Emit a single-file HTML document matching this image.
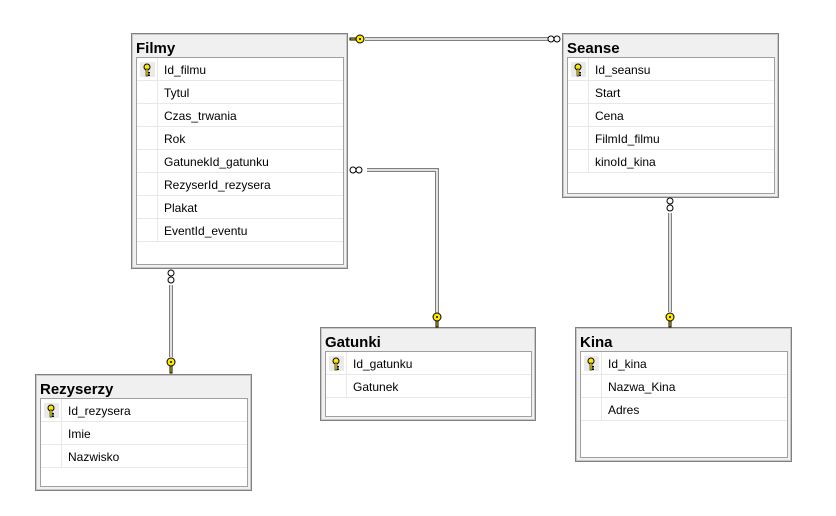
<!DOCTYPE html>
<html><head><meta charset="utf-8"><style>
body{margin:0;width:836px;height:516px;background:#fff;position:relative;overflow:hidden;font-family:"Liberation Sans",sans-serif}
.b{position:absolute;background:#f0f0f0;border:1px solid #808080;box-shadow:inset 0 0 0 1px #c8c8c8;box-sizing:border-box}
.t{position:absolute;left:4px;top:6px;font-weight:bold;font-size:15px;color:#000}
.in{position:absolute;left:4px;top:23px;right:3px;bottom:3px;background:#fff;border:1px solid #a0a0a0}
.r{height:22px;border-bottom:1px solid #e8e8e8;position:relative;font-size:12px;line-height:24px}
.r span{position:absolute;left:27px}
.r:before{content:"";position:absolute;left:20px;top:0;bottom:-1px;border-left:1px solid #e8e8e8}
.k{position:absolute;left:3px;top:4px;width:15px;height:15px;background:#eaeaea}
</style></head><body>
<svg width="0" height="0" style="position:absolute"><defs>
<g id="key"><circle cx="7" cy="4" r="3" fill="#ffe800" stroke="#000" stroke-width="1"/><rect x="6" y="6" width="2" height="7" fill="#ffe800" stroke="#000" stroke-width="0.6"/><rect x="8" y="9" width="2" height="1.5" fill="#000"/><rect x="8" y="11.5" width="2" height="1.5" fill="#000"/></g>
</defs></svg>

<div class="b" style="left:131px;top:33px;width:217px;height:236px"><div class="t">Filmy</div><div class="in">
<div class="r"><div class="k"><svg width="15" height="15"><use href="#key"/></svg></div><span>Id_filmu</span></div>
<div class="r"><span>Tytul</span></div><div class="r"><span>Czas_trwania</span></div><div class="r"><span>Rok</span></div>
<div class="r"><span>GatunekId_gatunku</span></div><div class="r"><span>RezyserId_rezysera</span></div><div class="r"><span>Plakat</span></div><div class="r"><span>EventId_eventu</span></div>
</div></div>

<div class="b" style="left:562px;top:33px;width:217px;height:165px"><div class="t">Seanse</div><div class="in">
<div class="r"><div class="k"><svg width="15" height="15"><use href="#key"/></svg></div><span>Id_seansu</span></div>
<div class="r"><span>Start</span></div><div class="r"><span>Cena</span></div><div class="r"><span>FilmId_filmu</span></div><div class="r"><span>kinoId_kina</span></div>
</div></div>

<div class="b" style="left:320px;top:327px;width:216px;height:94px"><div class="t">Gatunki</div><div class="in">
<div class="r"><div class="k"><svg width="15" height="15"><use href="#key"/></svg></div><span>Id_gatunku</span></div>
<div class="r"><span>Gatunek</span></div>
</div></div>

<div class="b" style="left:575px;top:327px;width:217px;height:135px"><div class="t">Kina</div><div class="in">
<div class="r"><div class="k"><svg width="15" height="15"><use href="#key"/></svg></div><span>Id_kina</span></div>
<div class="r"><span>Nazwa_Kina</span></div><div class="r"><span>Adres</span></div>
</div></div>

<div class="b" style="left:35px;top:374px;width:217px;height:117px"><div class="t">Rezyserzy</div><div class="in">
<div class="r"><div class="k"><svg width="15" height="15"><use href="#key"/></svg></div><span>Id_rezysera</span></div>
<div class="r"><span>Imie</span></div><div class="r"><span>Nazwisko</span></div>
</div></div>

<svg width="836" height="516" style="position:absolute;left:0;top:0" fill="none">
<g stroke="#808080" stroke-width="4"><path d="M365 39H548"/><path d="M367 170H437V313"/><path d="M171 285V357"/><path d="M670 213V312"/></g>
<g stroke="#fff" stroke-width="1.5"><path d="M365 39H548"/><path d="M367 170H437V313"/><path d="M171 285V357"/><path d="M670 213V312"/></g>
<g stroke="#000" stroke-width="1" fill="#fff">
<circle cx="551" cy="39" r="3"/><circle cx="557" cy="39" r="3"/>
<circle cx="353" cy="170" r="3"/><circle cx="359" cy="170" r="3"/>
<circle cx="171" cy="273" r="3"/><circle cx="171" cy="280" r="3"/>
<circle cx="670" cy="201" r="3"/><circle cx="670" cy="208" r="3"/>
</g>
<g stroke="#000" stroke-width="1" fill="#ffe800">
<circle cx="360" cy="39" r="4"/><path d="M350 38h6v2h-6z"/>
<circle cx="437" cy="317" r="4"/><path d="M436 321h2v6h-2z"/>
<circle cx="171" cy="362" r="4"/><path d="M170 366h2v7h-2z"/>
<circle cx="670" cy="317" r="4"/><path d="M669 321h2v6h-2z"/>
</g>
<g fill="#000"><circle cx="360" cy="39" r="1"/><circle cx="437" cy="317" r="1"/><circle cx="171" cy="362" r="1"/><circle cx="670" cy="317" r="1"/></g>
</svg>
</body></html>
